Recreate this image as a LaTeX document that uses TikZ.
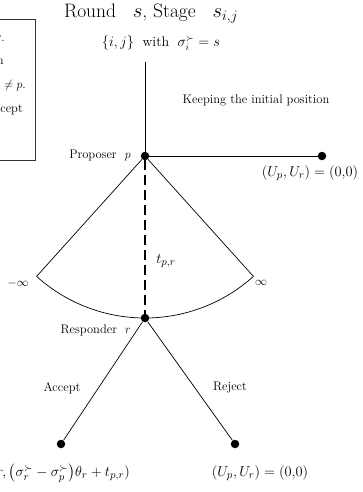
\documentclass[tikz,border=0pt]{standalone}
\usepackage{amsmath, amssymb}
\usetikzlibrary{calc, positioning}
\tikzset{
    gameNode/.style={circle, fill=black, inner sep=0pt, minimum size=8.5pt},
    branch/.style={line width=0.7pt},
    txt/.style={font=\fontsize{12.5}{15}\selectfont, inner sep=0pt},
    mathLbl/.style={font=\fontsize{15}{18}\selectfont, inner sep=0pt}
}

\begin{document}
\begin{tikzpicture}[x=1pt, y=1pt]
    \useasboundingbox (0,0) rectangle (363,-492);
    % --- Side box (cut at the left edge) ---
    \draw[line width=0.8pt, black!80] (-80,-19) rectangle (35,-160);
    \node[txt, anchor=east] (boxA) at (5,-39) {r.};
    \node[txt, anchor=east] (boxB) at (4,-62) {n};
    \node[txt, anchor=east] (boxC) at (26,-86) {$\neq p$.};
    \node[txt, anchor=east] (boxD) at (23,-110) {cept};
    % --- Header ---
    \node[font=\fontsize{19.5}{23}\selectfont] (title) at (151,-14) {Round\;\; $s$, Stage\;\; $s_{i,j}$};
    \node[txt, font=\fontsize{14}{17}\selectfont] (pair) at (161,-43) {$\{i,j\}$\; with\; $\sigma_i^{\succ}=s$};
    % --- Proposer ---
    \coordinate (top) at (145,-62);
    \node[gameNode] (prop) at (145,-156) {};
    \node[gameNode] (keep) at (322,-156) {};
    \draw[branch] (top) -- (prop);
    \draw[branch] (prop) -- (keep);
    \node[txt, anchor=east] (propLbl) at (131,-155) {Proposer\ \ $p$};
    \node[txt] (keepLbl) at (256,-100) {Keeping the initial position};
    \node[mathLbl] (keepPay) at (310,-173) {$(U_p,U_r)=(0{,}0)$};
    % --- Transfer arc ---
    \node[gameNode] (resp) at ($(prop)+(270:162)$) {};
    \coordinate (arcL) at ($(prop)+(228:162)$);
    \coordinate (arcR) at ($(prop)+(312:162)$);
    \draw[branch] (arcL) -- (prop) -- (arcR);
    \draw[branch] (arcL) arc[start angle=228, end angle=312, radius=162];
    \draw[line width=1.5pt, dash pattern=on 10pt off 5pt] (prop) -- (resp);
    \node[mathLbl] (tLbl) at (166,-261) {$t_{p,r}$};
    \node[txt] (minf) at (18,-283) {$-\infty$};
    \node[txt] (pinf) at (261,-283) {$\infty$};
    % --- Responder ---
    \node[txt, anchor=east] (respLbl) at (131,-330) {Responder\ \ $r$};
    \node[gameNode] (acc) at (61,-444) {};
    \node[gameNode] (rej) at (235,-444) {};
    \draw[branch] (resp) -- (acc);
    \draw[branch] (resp) -- (rej);
    \node[txt] (accLbl) at (62,-388) {Accept};
    \node[txt] (rejLbl) at (230,-388) {Reject};
    \node[mathLbl, anchor=east] (accPay) at (130,-473) {$r,\bigl(\sigma_r^{\succ}-\sigma_p^{\succ}\bigr)\theta_r+t_{p,r})$};
    \node[mathLbl] (rejPay) at (260,-473) {$(U_p,U_r)=(0{,}0)$};
\end{tikzpicture}
\end{document}
